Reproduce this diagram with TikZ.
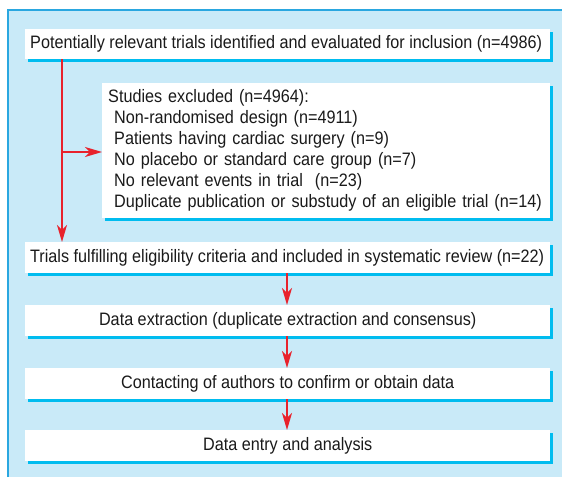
\documentclass[tikz,border=0pt]{standalone}
\usepackage{fontspec}
\setmainfont{Liberation Sans}[FakeStretch=0.9]
\usetikzlibrary{arrows.meta,shadows,calc}
\definecolor{panel}{HTML}{C9EAF8}
\definecolor{panelline}{HTML}{2AA7E0}
\definecolor{shadowc}{HTML}{00BCEF}
\definecolor{arrred}{HTML}{E8222C}
\definecolor{txt}{HTML}{1A1A1A}
\newcommand{\myleftline}[1]{\makebox[515pt][l]{#1}}
\newcommand{\mycentline}[1]{\makebox[515pt][c]{#1}}
\tikzset{
  box/.style={draw=none, fill=white, inner xsep=5pt, inner ysep=0pt,
    minimum height=31pt, text=txt, font=\fontsize{18}{21}\selectfont,
    drop shadow={shadow xshift=3pt, shadow yshift=-3pt, fill=shadowc, opacity=1}},
  arr/.style={draw=arrred, line width=1.6pt, -{Stealth[length=17pt, width=10pt, inset=5pt]}}
}
\begin{document}
\begin{tikzpicture}[x=1pt, y=-1pt]
\useasboundingbox (0,0) rectangle (562,477);
\fill[panel] (7,9) rectangle (562,477);
\draw[panelline, line width=2pt] (8,477) -- (8,10) -- (562,10);

\node[box, anchor=north west, minimum height=30pt] (b1) at (25,29)
  {\myleftline{Potentially relevant trials identified and evaluated for inclusion (n=4986)}};
\node[box, anchor=north west, text width=436pt, inner xsep=6pt, align=left, minimum height=135pt] (b2) at (102,83)
  {Studies excluded (n=4964):\\
   \hspace*{6pt}Non-randomised design (n=4911)\\
   \hspace*{6pt}Patients having cardiac surgery (n=9)\\
   \hspace*{6pt}No placebo or standard care group (n=7)\\
   \hspace*{6pt}No relevant events in trial\ \ (n=23)\\
   \hspace*{6pt}Duplicate publication or substudy of an eligible trial (n=14)};
\node[box, anchor=north west] (b3) at (25,242)
  {\myleftline{Trials fulfilling eligibility criteria and included in systematic review (n=22)}};
\node[box, anchor=north west] (b4) at (25,305)
  {\mycentline{Data extraction (duplicate extraction and consensus)}};
\node[box, anchor=north west] (b5) at (25,368)
  {\mycentline{Contacting of authors to confirm or obtain data}};
\node[box, anchor=north west] (b6) at (25,430)
  {\mycentline{Data entry and analysis}};

\coordinate (lx) at (62,0);
\coordinate (ax) at (287,0);
\coordinate (br) at (62,152);
\draw[arr] (b1.south -| lx) -- (b3.north -| lx);
\draw[arr] (br) -- (br -| b2.west);
\draw[arr] (b3.south -| ax) -- (b4.north -| ax);
\draw[arr] (b4.south -| ax) -- (b5.north -| ax);
\draw[arr] (b5.south -| ax) -- (b6.north -| ax);
\end{tikzpicture}
\end{document}
